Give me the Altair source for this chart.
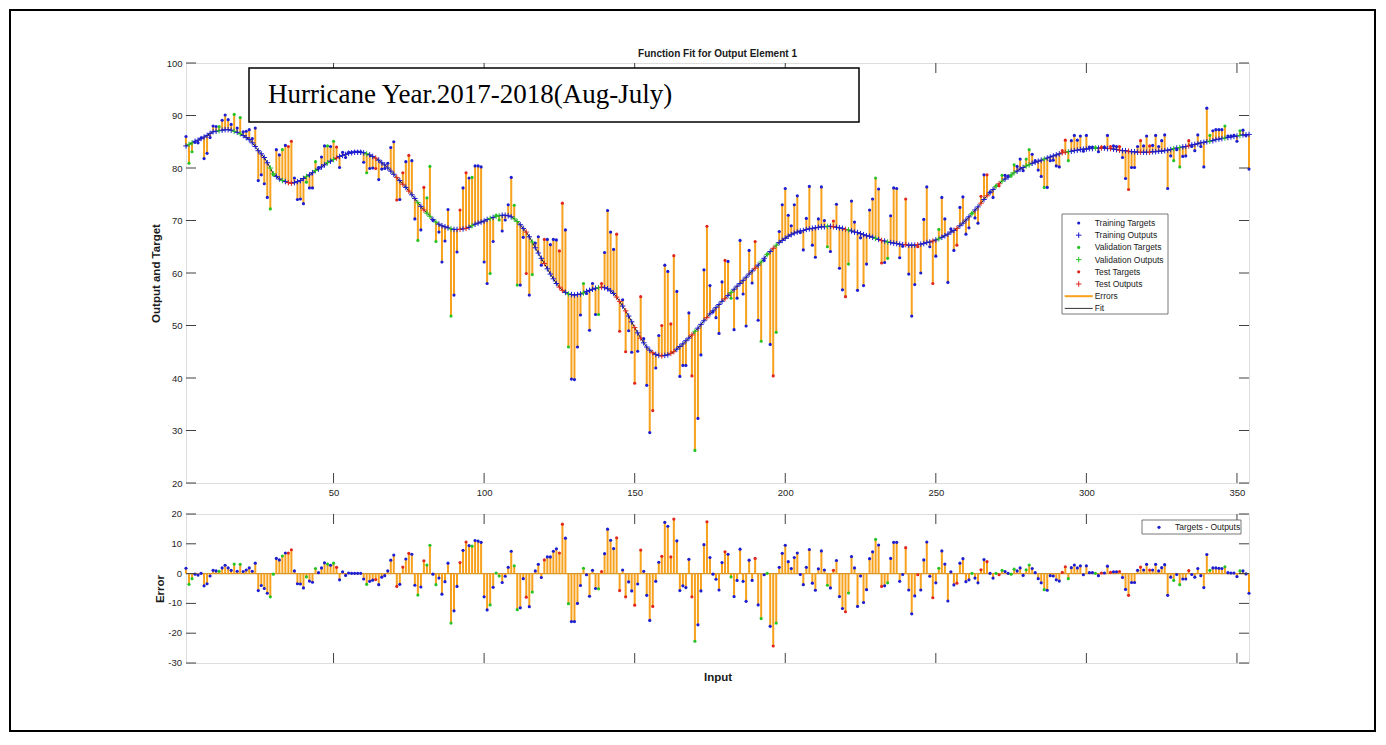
import altair as alt
import pandas as pd

# ---------------- data ----------------
fit_output = [
    84.2, 84.5, 84.8, 85.1, 85.3, 85.6, 85.9, 86.2, 86.6, 86.9,
    87.0, 87.1, 87.2, 87.3, 87.3, 87.2, 87.0, 86.8, 86.5, 86.2,
    85.8, 85.4, 84.8, 84.1, 83.3, 82.7, 82.0, 81.0, 80.0, 78.9,
    78.4, 77.9, 77.6, 77.4, 77.2, 77.1, 77.2, 77.4, 77.6, 78.0,
    78.4, 78.7, 79.1, 79.5, 79.8, 80.2, 80.6, 81.0, 81.3, 81.6,
    81.9, 82.2, 82.4, 82.6, 82.8, 82.9, 83.0, 83.0, 83.0, 82.9,
    82.7, 82.5, 82.2, 81.9, 81.5, 81.0, 80.6, 80.0, 79.4, 78.8,
    78.2, 77.6, 76.9, 76.3, 75.6, 74.9, 74.2, 73.4, 72.7, 72.0,
    71.4, 70.8, 70.2, 69.7, 69.3, 69.0, 68.8, 68.6, 68.4, 68.3,
    68.3, 68.3, 68.4, 68.5, 68.7, 69.0, 69.3, 69.5, 69.7, 69.9,
    70.2, 70.4, 70.6, 70.8, 70.9, 71.0, 71.0, 70.9, 70.7, 70.3,
    69.8, 69.2, 68.5, 67.8, 66.9, 65.9, 64.8, 63.8, 62.8, 61.8,
    60.8, 59.8, 58.9, 58.0, 57.3, 56.7, 56.3, 56.0, 55.9, 55.8,
    55.9, 56.0, 56.2, 56.5, 56.7, 56.9, 57.1, 57.2, 57.3, 57.2,
    57.0, 56.6, 56.1, 55.4, 54.6, 53.7, 52.8, 51.8, 50.7, 49.6,
    48.6, 47.6, 46.7, 45.9, 45.3, 44.8, 44.5, 44.3, 44.2, 44.3,
    44.4, 44.7, 45.0, 45.5, 46.0, 46.5, 47.1, 47.6, 48.2, 48.9,
    49.5, 50.2, 50.9, 51.5, 52.2, 52.8, 53.4, 54.0, 54.6, 55.1,
    55.7, 56.3, 56.9, 57.5, 58.0, 58.6, 59.2, 59.8, 60.4, 60.9,
    61.5, 62.1, 62.8, 63.5, 64.1, 64.7, 65.3, 65.8, 66.2, 66.6,
    67.0, 67.3, 67.6, 67.8, 68.0, 68.1, 68.3, 68.4, 68.5, 68.6,
    68.7, 68.8, 68.8, 68.9, 68.9, 68.8, 68.7, 68.6, 68.5, 68.3,
    68.2, 68.0, 67.8, 67.7, 67.5, 67.3, 67.1, 67.0, 66.8, 66.6,
    66.4, 66.2, 66.1, 65.9, 65.8, 65.7, 65.6, 65.5, 65.4, 65.4,
    65.3, 65.3, 65.3, 65.4, 65.5, 65.6, 65.8, 65.9, 66.1, 66.3,
    66.5, 66.8, 67.1, 67.4, 67.8, 68.1, 68.5, 69.0, 69.5, 70.1,
    70.7, 71.3, 72.0, 72.6, 73.3, 74.0, 74.7, 75.3, 75.9, 76.5,
    77.0, 77.5, 77.9, 78.3, 78.7, 79.1, 79.4, 79.8, 80.1, 80.4,
    80.6, 80.9, 81.1, 81.3, 81.5, 81.7, 81.9, 82.1, 82.3, 82.5,
    82.7, 82.9, 83.0, 83.1, 83.2, 83.3, 83.4, 83.5, 83.6, 83.6,
    83.7, 83.7, 83.8, 83.8, 83.8, 83.8, 83.7, 83.7, 83.6, 83.5,
    83.4, 83.3, 83.3, 83.2, 83.1, 83.1, 83.0, 83.0, 83.0, 83.0,
    83.0, 83.1, 83.1, 83.2, 83.2, 83.3, 83.4, 83.5, 83.7, 83.8,
    83.9, 84.0, 84.1, 84.2, 84.4, 84.5, 84.6, 84.8, 84.9, 85.0,
    85.1, 85.2, 85.4, 85.5, 85.6, 85.7, 85.8, 85.9, 86.0, 86.1,
    86.2, 86.3, 86.3, 86.4,
]

errors = [
    1.8, -3.6, -1.7, -0.2, -0.5, 0.1, -4.1, -3.4, -0.8, 1.1,
    0.9, 0.8, 1.9, 2.8, 1.9, 1.1, 3.2, 0.8, 3.1, 0.7,
    1.2, 1.9, 0.8, 3.5, -5.7, -4.0, -5.0, -6.6, -7.8, -0.2,
    5.1, 4.6, 5.9, 6.9, 6.9, 8.0, 0.9, -3.4, -3.5, -4.8,
    -1.1, -2.5, -2.9, 1.7, 0.3, 1.9, 3.6, 3.2, 2.8, 3.5,
    2.1, -2.1, 0.6, -0.6, 0.2, 0.1, 0.1, 0.1, 0.1, -1.8,
    -3.6, -2.6, -2.2, -2.0, -3.7, -1.2, -0.7, 0.9, 4.5, 6.2,
    -4.3, -3.6, 2.2, 4.9, 6.8, 6.5, -3.9, -7.2, -4.5, 4.3,
    2.9, 9.5, -0.2, -3.7, -1.5, -6.9, -2.7, 3.5, -16.6, -12.5,
    -4.3, 3.7, 7.8, 10.6, 9.4, 9.2, 11.1, 10.9, 10.5, -7.8,
    -12.2, -10.5, -4.6, 0.2, -0.8, -3.0, -0.9, 2.1, 7.5, 2.6,
    -12.1, -11.5, -1.7, -7.9, -11.1, -6.2, 0.9, 3.1, -1.3, 4.6,
    5.6, 5.6, 7.5, 8.3, 6.9, 16.6, 11.9, -10.1, -16.1, -16.1,
    -10.0, -4.0, 1.8, -0.4, -7.6, 1.1, -5.0, -5.1, 0.7, 6.7,
    14.9, 11.2, 8.4, 12.0, -5.7, 1.2, -7.8, -2.8, -5.8, -10.6,
    -3.5, 7.9, 0.8, -7.3, -15.7, -11.0, -2.6, 3.8, 5.8, 17.2,
    15.9, 5.6, 18.3, 11.0, -5.7, -4.1, -4.7, 4.8, -7.8, -22.7,
    -17.2, -5.8, 9.7, 17.4, 5.4, -0.2, -1.9, -5.5, 3.7, 7.3,
    6.5, -1.1, -7.7, -2.3, 8.2, -2.6, -9.3, 4.5, -2.3, 5.1,
    -10.5, -15.1, -0.4, 0.1, -17.7, -24.3, -16.6, 2.1, 6.8, 9.5,
    4.0, 1.7, 5.4, 6.9, -0.3, -3.7, 2.1, 8.1, -3.2, -5.6,
    1.6, 7.6, 1.2, -3.9, -4.8, 1.1, 4.4, -7.7, -11.7, -12.8,
    -6.5, 5.7, 1.9, -11.0, -0.8, -9.7, -5.4, 5.0, 7.3, 11.5,
    9.6, -4.3, -4.1, -3.1, 5.1, 10.5, 10.5, -2.6, -0.3, 8.7,
    -5.5, -13.5, -7.5, -0.4, -5.5, 4.6, 10.6, -0.9, -8.1, -3.1,
    1.8, 7.6, 3.2, -9.2, 0.6, -3.8, -3.2, 3.5, 5.0, -2.7,
    -2.1, 0.1, -1.5, -3.1, 1.3, 4.7, 4.0, 0.1, -1.5, 0.1,
    -0.4, 1.1, 0.7, 0.1, -0.2, 1.5, 0.9, 1.9, -0.6, 1.3,
    2.9, 1.7, 0.3, -1.7, -3.1, -5.4, -5.6, -0.7, -0.8, -2.1,
    -2.5, 0.4, 2.3, -1.7, 2.0, 2.9, 1.9, 2.6, -0.4, 2.6,
    0.3, 0.3, 0.1, -0.7, 0.2, 0.2, 2.5, 0.4, 0.6, 0.6,
    0.7, -1.3, -5.3, -7.3, -3.0, -3.0, 1.1, 2.2, 1.2, 3.1,
    1.2, 1.2, 3.1, 0.9, 2.0, 3.0, -7.3, -1.2, -2.3, -0.3,
    -3.7, -1.8, -1.8, 1.0, -0.3, -1.2, 1.7, -0.7, -4.7, 6.4,
    1.1, 1.9, 1.9, 1.8, 1.7, 2.3, 0.3, 0.2, 0.2, -1.0,
    0.9, 0.9, -0.1, -6.6,
]

validation_inputs = [2, 3, 12, 17, 19, 29, 30, 33, 41, 44, 48, 50, 61, 78, 81, 82, 84,
                     89, 96, 102, 104, 105, 110, 111, 116, 128, 133, 138, 170, 182, 192,
                     194, 197, 214, 221, 230, 234, 251, 262, 270, 272, 275, 276, 280,
                     281, 286, 294, 303, 329, 331, 341, 346, 351]
test_inputs = [35, 36, 51, 64, 71, 73, 75, 80, 92, 94, 114, 120, 125, 126, 139, 144,
               145, 147, 150, 152, 156, 159, 162, 163, 169, 174, 180, 190, 196, 216,
               220, 232, 240, 244, 249, 257, 265, 267, 271, 292, 293, 305, 308, 311,
               314, 318, 321, 334]

x_ticks = [50, 100, 150, 200, 250, 300, 350]
y_ticks_top = [20, 30, 40, 50, 60, 70, 80, 90, 100]
y_ticks_err = [-30, -20, -10, 0, 10, 20]

legend_items = [
    ("Training Targets", "dot", "Training"),
    ("Training Outputs", "plus", "Training"),
    ("Validation Targets", "dot", "Validation"),
    ("Validation Outputs", "plus", "Validation"),
    ("Test Targets", "dot", "Test"),
    ("Test Outputs", "plus", "Test"),
    ("Errors", "errline", ""),
    ("Fit", "fitline", ""),
]

title_text = "Function Fit for Output Element 1"
box_text = "Hurricane Year.2017-2018(Aug-July)"

# ---------------- build table ----------------
n = min(len(fit_output), len(errors))
rows = []
for k in range(n):
    i = k + 1
    if i in validation_inputs:
        s = "Validation"
    elif i in test_inputs:
        s = "Test"
    else:
        s = "Training"
    rows.append({"i": i, "output": fit_output[k], "err": errors[k],
                 "target": round(fit_output[k] + errors[k], 2), "subset": s})
df = pd.DataFrame(rows)

BLUE, GREEN, RED = "#1c1cd2", "#25c425", "#e0261f"
ORANGE = "#f7a11c"
AX = "#404040"
LBL = "#262626"
FONT = "Liberation Sans"
cmap = {"Training": BLUE, "Validation": GREEN, "Test": RED}
color_scale = alt.Scale(domain=["Training", "Validation", "Test"], range=[BLUE, GREEN, RED])
PLUS = "M-1,0L1,0M0,-1L0,1"

W, H1, H2 = 1063, 420, 149
xscale = alt.Scale(domain=[1, n], nice=False, zero=False)
yscale_top = alt.Scale(domain=[20, 100], nice=False, zero=False)
yscale_err = alt.Scale(domain=[-30, 20], nice=False, zero=False)

one = pd.DataFrame({"d": [0]})

xaxis_top = alt.Axis(values=x_ticks, title=None, grid=False, domain=False, ticks=False,
                     labelPadding=4, labelFontSize=9.5, labelColor=LBL, labelFont=FONT,
                     labelOverlap=False, labelFlush=False)
yaxis_top = alt.Axis(values=y_ticks_top, title="Output and Target", grid=False, domain=False,
                     ticks=False, labelPadding=4, labelFontSize=9.5, labelColor=LBL,
                     labelFont=FONT, labelOverlap=False, labelFlush=False,
                     titleFont=FONT, titleFontSize=11.5, titleFontWeight="bold",
                     titleColor="#1a1a1a", titleX=-30, titleY=H1 / 2, titleAngle=270,
                     titleAlign="center", titleBaseline="middle")
xaxis_err = alt.Axis(values=x_ticks, labels=False, grid=False, domain=False, ticks=False,
                     title="Input", titleFont=FONT, titleFontSize=11.5, titleFontWeight="bold",
                     titleColor="#1a1a1a", titleX=W / 2, titleY=14,
                     titleAlign="center", titleBaseline="middle")
yaxis_err = alt.Axis(values=y_ticks_err, labels=False, title="Error", grid=False, domain=False,
                     ticks=False, titleFont=FONT, titleFontSize=11.5, titleFontWeight="bold",
                     titleColor="#1a1a1a", titleX=-26, titleY=H2 / 2, titleAngle=270,
                     titleAlign="center", titleBaseline="middle")

base = alt.Chart(df)


def inward_ticks(xfield, yfield, xvals, yvals, h):
    xt = pd.DataFrame({xfield: xvals})
    yt = pd.DataFrame({yfield: yvals})
    return [
        alt.Chart(xt).mark_rule(color=AX, strokeWidth=1).encode(
            x=alt.X(f"{xfield}:Q"), y=alt.value(h), y2=alt.value(h - 10)),
        alt.Chart(xt).mark_rule(color=AX, strokeWidth=1).encode(
            x=alt.X(f"{xfield}:Q"), y=alt.value(0), y2=alt.value(10)),
        alt.Chart(yt).mark_rule(color=AX, strokeWidth=1).encode(
            y=alt.Y(f"{yfield}:Q"), x=alt.value(0), x2=alt.value(10)),
        alt.Chart(yt).mark_rule(color=AX, strokeWidth=1).encode(
            y=alt.Y(f"{yfield}:Q"), x=alt.value(W), x2=alt.value(W - 10)),
    ]


# ---------------- top panel ----------------
frame = alt.Chart(one).mark_rect(fillOpacity=0, stroke="black", strokeWidth=2).encode(
    x=alt.value(-176), x2=alt.value(1189), y=alt.value(-53), y2=alt.value(668))

title_mark = alt.Chart(one).mark_text(text=title_text, font=FONT, fontSize=10, fontWeight="bold",
                                      align="center", baseline="alphabetic",
                                      color="#1a1a1a").encode(
    x=alt.value(W / 2), y=alt.value(-6))

err_top = base.mark_rule(color=ORANGE, strokeWidth=2).encode(
    x=alt.X("i:Q", scale=xscale, axis=xaxis_top),
    y=alt.Y("target:Q", scale=yscale_top, axis=yaxis_top),
    y2="output:Q")
fit_line = base.mark_line(color="#1a1a1a", strokeWidth=1).encode(x="i:Q", y="output:Q")
outs = base.mark_point(shape=PLUS, filled=False, size=30, strokeWidth=1, opacity=1).encode(
    x="i:Q", y="output:Q", color=alt.Color("subset:N", scale=color_scale, legend=None))
tgts = base.mark_circle(size=10, opacity=1).encode(
    x="i:Q", y="target:Q", color=alt.Color("subset:N", scale=color_scale, legend=None))

tbox = alt.Chart(one).mark_rect(fill="white", stroke="black", strokeWidth=1.5).encode(
    x=alt.value(63), x2=alt.value(673), y=alt.value(5), y2=alt.value(59))
ttext = alt.Chart(one).mark_text(text=box_text, font="Liberation Serif", fontSize=27,
                                 align="left", baseline="alphabetic", color="black").encode(
    x=alt.value(82), y=alt.value(40))

leg_layers = [alt.Chart(one).mark_rect(fill="white", stroke="#555555", strokeWidth=0.8).encode(
    x=alt.value(876), x2=alt.value(982), y=alt.value(151), y2=alt.value(251))]
for k, (lab, kind, sub) in enumerate(legend_items):
    yy = 160 + 12.2 * k
    if kind == "dot":
        leg_layers.append(alt.Chart(one).mark_circle(size=10, opacity=1, color=cmap[sub]).encode(
            x=alt.value(892.7), y=alt.value(yy)))
    elif kind == "plus":
        leg_layers.append(alt.Chart(one).mark_point(shape=PLUS, filled=False, size=30, strokeWidth=1,
                                                    opacity=1, color=cmap[sub]).encode(
            x=alt.value(892.7), y=alt.value(yy)))
    elif kind == "errline":
        leg_layers.append(alt.Chart(one).mark_rule(color=ORANGE, strokeWidth=2).encode(
            x=alt.value(878.7), x2=alt.value(906.7), y=alt.value(yy)))
    else:
        leg_layers.append(alt.Chart(one).mark_rule(color="#333333", strokeWidth=1).encode(
            x=alt.value(878.7), x2=alt.value(906.7), y=alt.value(yy)))
    leg_layers.append(alt.Chart(one).mark_text(text=lab, font=FONT, fontSize=8.5, align="left",
                                               baseline="middle", color="#1a1a1a").encode(
        x=alt.value(908.7), y=alt.value(yy)))

top = alt.layer(
    frame, err_top, fit_line, outs, tgts,
    *inward_ticks("i", "output", x_ticks, y_ticks_top, H1),
    tbox, ttext, title_mark, *leg_layers,
).properties(width=W, height=H1)

# ---------------- error panel ----------------
zero_line = alt.Chart(one).mark_rule(color="#c98f2e", strokeWidth=1.2).encode(
    y=alt.datum(0), x=alt.value(0), x2=alt.value(W))
stems = base.mark_rule(color=ORANGE, strokeWidth=2).encode(
    x=alt.X("i:Q", scale=xscale, axis=xaxis_err),
    y=alt.Y("err:Q", scale=yscale_err, axis=yaxis_err),
    y2=alt.datum(0))
edots = base.mark_circle(size=10, opacity=1).encode(
    x="i:Q", y="err:Q", color=alt.Color("subset:N", scale=color_scale, legend=None))

err_lab_df = pd.DataFrame({"err": y_ticks_err, "lab": [str(v) for v in y_ticks_err]})
err_labels = alt.Chart(err_lab_df).mark_text(font=FONT, fontSize=9.5, align="right",
                                             baseline="middle", color=LBL).encode(
    y=alt.Y("err:Q"), x=alt.value(-4), text="lab:N")

eleg = [
    alt.Chart(one).mark_rect(fill="white", stroke="#555555", strokeWidth=0.8).encode(
        x=alt.value(956), x2=alt.value(1055), y=alt.value(6), y2=alt.value(20)),
    alt.Chart(one).mark_circle(size=10, opacity=1, color=BLUE).encode(
        x=alt.value(973), y=alt.value(13.3)),
    alt.Chart(one).mark_text(text="Targets - Outputs", font=FONT, fontSize=8.5, align="left",
                             baseline="middle", color="#1a1a1a").encode(
        x=alt.value(989), y=alt.value(13.3)),
]

bottom = alt.layer(
    zero_line, stems, edots,
    *inward_ticks("i", "err", x_ticks, y_ticks_err, H2),
    err_labels, *eleg,
).properties(width=W, height=H2)

chart = alt.vconcat(top, bottom, spacing=31, bounds="flush").properties(
    padding=0
).configure_view(stroke=AX, strokeWidth=1).configure(font=FONT)

chart.save("out.html", embed_options={"renderer": "svg", "actions": False})
